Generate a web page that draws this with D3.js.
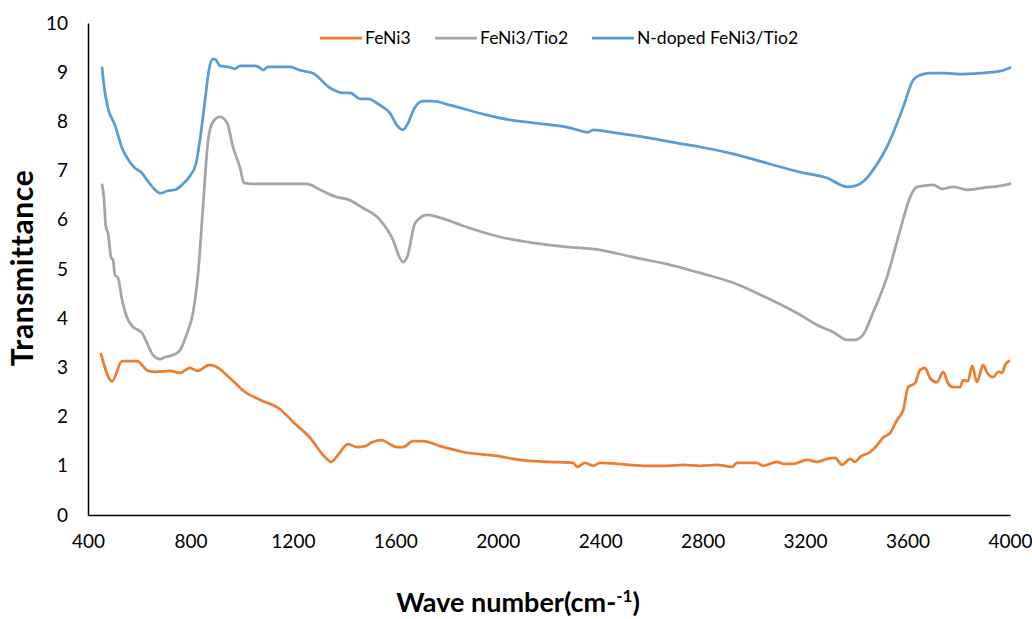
<!DOCTYPE html>
<html>
<head>
<meta charset="utf-8">
<script src="https://cdn.jsdelivr.net/npm/d3@7"></script>
<style>
  body { margin: 0; background: #fff; }
  svg { font-family: Lato, "Open Sans", sans-serif; }
</style>
</head>
<body>
<div id="chart"></div>
<script>
/* ---------- data ---------- */
const xTicks = [400, 800, 1200, 1600, 2000, 2400, 2800, 3200, 3600, 4000];
const yTicks = [0, 1, 2, 3, 4, 5, 6, 7, 8, 9, 10];

const seriesNames = ['FeNi3', 'FeNi3/Tio2', 'N-doped FeNi3/Tio2'];

const feNi3 = [
  [451, 3.27], [494, 2.72], [533, 3.13], [591, 3.13], [634, 2.93], [662, 2.91],
  [720, 2.93], [759, 2.89], [798, 2.99], [826, 2.93], [876, 3.05], [908, 2.99],
  [955, 2.78], [1013, 2.5], [1072, 2.34], [1150, 2.15], [1201, 1.89], [1267, 1.57],
  [1318, 1.22], [1349, 1.08], [1376, 1.22], [1415, 1.44], [1450, 1.38], [1482, 1.4],
  [1509, 1.48], [1548, 1.52], [1572, 1.46], [1607, 1.38], [1630, 1.38], [1669, 1.5],
  [1708, 1.5], [1775, 1.4], [1864, 1.28], [1997, 1.2], [2087, 1.12], [2204, 1.08],
  [2294, 1.06], [2310, 0.98], [2341, 1.06], [2372, 1.0], [2399, 1.06], [2466, 1.04],
  [2567, 1.0], [2661, 1.0], [2723, 1.02], [2790, 1.0], [2856, 1.02], [2915, 0.98],
  [2934, 1.06], [3012, 1.06], [3036, 1.0], [3091, 1.08], [3114, 1.04], [3153, 1.04],
  [3208, 1.12], [3247, 1.08], [3286, 1.14], [3317, 1.16], [3344, 1.02], [3376, 1.14],
  [3395, 1.08], [3415, 1.18], [3454, 1.28], [3481, 1.42], [3504, 1.57], [3532, 1.67],
  [3559, 1.93], [3583, 2.13], [3602, 2.6], [3629, 2.68], [3649, 2.95], [3668, 2.99],
  [3688, 2.78], [3715, 2.7], [3739, 2.91], [3758, 2.68], [3778, 2.6], [3805, 2.6],
  [3817, 2.74], [3836, 2.72], [3852, 3.03], [3871, 2.7], [3895, 3.05], [3911, 2.89],
  [3934, 2.8], [3954, 2.91], [3969, 2.89], [3981, 3.05], [3996, 3.13]
];

const feNi3TiO2 = [
  [455, 6.71], [462, 6.46], [470, 5.85], [478, 5.73], [490, 5.24], [498, 5.18],
  [505, 4.88], [517, 4.82], [533, 4.37], [552, 4.02], [576, 3.82], [595, 3.76],
  [611, 3.7], [630, 3.5], [654, 3.25], [681, 3.17], [701, 3.21], [732, 3.25],
  [759, 3.35], [787, 3.7], [810, 4.11], [830, 4.92], [849, 6.26], [869, 7.62],
  [888, 7.99], [915, 8.09], [943, 7.97], [966, 7.48], [994, 7.05], [1009, 6.75],
  [1044, 6.73], [1255, 6.73], [1306, 6.61], [1372, 6.46], [1411, 6.42], [1474, 6.24],
  [1540, 6.0], [1591, 5.59], [1618, 5.22], [1630, 5.14], [1646, 5.24], [1677, 5.93],
  [1724, 6.1], [1763, 6.06], [1880, 5.85], [2009, 5.65], [2138, 5.53], [2270, 5.45],
  [2399, 5.39], [2528, 5.24], [2661, 5.1], [2790, 4.92], [2919, 4.72], [3052, 4.41],
  [3180, 4.07], [3247, 3.86], [3309, 3.72], [3364, 3.56], [3395, 3.56], [3426, 3.66],
  [3465, 4.11], [3520, 4.84], [3571, 5.79], [3610, 6.46], [3637, 6.67], [3661, 6.69],
  [3700, 6.71], [3735, 6.63], [3778, 6.67], [3832, 6.61], [3895, 6.65], [3961, 6.69],
  [4000, 6.73]
];

const nDoped = [
  [455, 9.09], [462, 8.74], [478, 8.27], [505, 7.93], [533, 7.46], [564, 7.17],
  [584, 7.05], [607, 6.97], [630, 6.81], [662, 6.61], [681, 6.54], [712, 6.59],
  [740, 6.61], [767, 6.71], [798, 6.89], [822, 7.15], [837, 7.62], [857, 8.43],
  [872, 9.04], [888, 9.27], [900, 9.25], [915, 9.13], [947, 9.11], [974, 9.07],
  [994, 9.13], [1052, 9.13], [1072, 9.09], [1083, 9.04], [1103, 9.11], [1189, 9.11],
  [1228, 9.04], [1279, 8.98], [1345, 8.68], [1396, 8.58], [1423, 8.58], [1462, 8.46],
  [1493, 8.46], [1540, 8.33], [1579, 8.17], [1611, 7.89], [1630, 7.83], [1646, 7.93],
  [1677, 8.29], [1708, 8.41], [1747, 8.41], [1814, 8.33], [1942, 8.15], [2048, 8.03],
  [2138, 7.97], [2282, 7.87], [2353, 7.78], [2372, 7.83], [2466, 7.76], [2595, 7.66],
  [2700, 7.56], [2790, 7.48], [2919, 7.34], [3052, 7.15], [3180, 6.97], [3286, 6.85],
  [3364, 6.67], [3395, 6.69], [3434, 6.81], [3465, 7.01], [3532, 7.62], [3583, 8.29],
  [3622, 8.84], [3649, 8.94], [3688, 8.98], [3747, 8.98], [3805, 8.96], [3883, 8.98],
  [3961, 9.02], [4000, 9.09]
];

const colors = ['#ED7D31', '#A5A5A5', '#5B9BD5'];

/* ---------- layout ---------- */
const W = 1032, H = 619;
const M = { top: 23, right: 22, bottom: 104, left: 88 };

const svg = d3.select('#chart').append('svg')
  .attr('width', W)
  .attr('height', H);

const x = d3.scaleLinear().domain([400, 4000]).range([M.left, W - M.right]);
const y = d3.scaleLinear().domain([0, 10]).range([H - M.bottom, M.top]);

/* ---------- axes ---------- */
const xAxis = d3.axisBottom(x).tickValues(xTicks).tickSize(0).tickPadding(20)
  .tickFormat(d3.format('d'));
const yAxis = d3.axisLeft(y).tickValues(yTicks).tickSize(0).tickPadding(20);

const gx = svg.append('g')
  .attr('transform', `translate(0,${y(0)})`)
  .call(xAxis);
const gy = svg.append('g')
  .attr('transform', `translate(${x(400)},0)`)
  .call(yAxis);

[gx, gy].forEach((g) => {
  g.select('.domain').attr('stroke', '#000').attr('stroke-width', 1.5);
  g.selectAll('text').attr('font-size', 19).attr('fill', '#000')
    .attr('font-family', 'Lato, "Open Sans", sans-serif');
});

/* ---------- series ---------- */
const line = d3.line()
  .x((d) => x(d[0]))
  .y((d) => y(d[1]))
  .curve(d3.curveMonotoneX);

[feNi3, feNi3TiO2, nDoped].forEach((data, i) => {
  svg.append('path')
    .datum(data)
    .attr('d', line)
    .attr('fill', 'none')
    .attr('stroke', colors[i])
    .attr('stroke-width', 2.75)
    .attr('stroke-linejoin', 'round')
    .attr('stroke-linecap', 'round');
});

/* ---------- legend ---------- */
const legendX = [320, 435, 592];
const legend = svg.append('g').attr('transform', 'translate(0,38)');
seriesNames.forEach((name, i) => {
  legend.append('line')
    .attr('x1', legendX[i]).attr('x2', legendX[i] + 42)
    .attr('y1', 0).attr('y2', 0)
    .attr('stroke', colors[i])
    .attr('stroke-width', 2.75);
  legend.append('text')
    .attr('x', legendX[i] + 45)
    .attr('y', 0)
    .attr('dy', '0.35em')
    .attr('font-size', 17.5)
    .attr('fill', '#000')
    .text(name);
});

/* ---------- titles ---------- */
svg.append('text')
  .attr('transform', `translate(33,268) rotate(-90)`)
  .attr('text-anchor', 'middle')
  .attr('font-size', 30)
  .attr('letter-spacing', 0.6)
  .attr('font-weight', 'bold')
  .text('Transmittance');

const xt = svg.append('text')
  .attr('x', 518)
  .attr('y', 612)
  .attr('text-anchor', 'middle')
  .attr('font-size', 27)
  .attr('font-weight', 'bold');
xt.append('tspan').text('Wave number(cm-');
xt.append('tspan').attr('font-size', 17).attr('dy', -10).text('-1');
xt.append('tspan').attr('dy', 10).text(')');
</script>
</body>
</html>
